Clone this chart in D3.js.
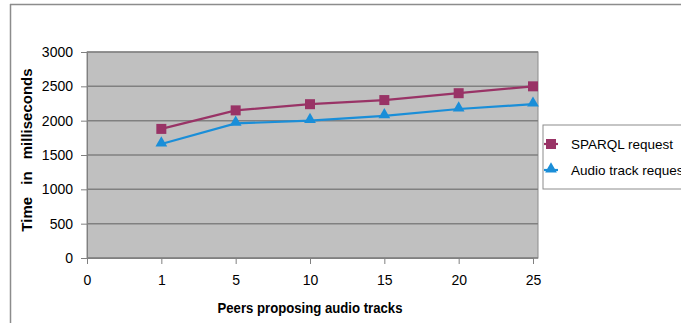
<!DOCTYPE html>
<html><head><meta charset="utf-8">
<script src="https://cdn.jsdelivr.net/npm/d3@7"></script>
<style>body{margin:0;background:#fff;}svg{display:block;}</style>
</head><body>
<script>
const categories = ["0","1","5","10","15","20","25"];
const yTicks = [0,500,1000,1500,2000,2500,3000];
const sparqlValues = [null,1880,2150,2240,2300,2400,2500];
const audioValues  = [null,1660,1960,2000,2070,2170,2240];
const seriesNames = ["SPARQL request","Audio track request"];
const seriesColors = ["#993366","#1A8ED8"];

const W=681,H=323;
const svg=d3.select("body").append("svg").attr("width",W).attr("height",H);
const font="'Liberation Sans',Arial,sans-serif";

// outer border
svg.append("line").attr("x1",10).attr("x2",W).attr("y1",4.5).attr("y2",4.5).attr("stroke","#8c8c8c").attr("stroke-width",1.5);
svg.append("line").attr("x1",10.5).attr("x2",10.5).attr("y1",4).attr("y2",H).attr("stroke","#8c8c8c").attr("stroke-width",1.5);

const plot={l:87,r:538,t:52,b:258};
const x=d3.scalePoint().domain(categories).range([plot.l,533]);
const y=d3.scaleLinear().domain([0,3000]).range([plot.b,plot.t]);

svg.append("rect").attr("x",plot.l).attr("y",plot.t).attr("width",plot.r-plot.l).attr("height",plot.b-plot.t)
  .attr("fill","#c0c0c0").attr("stroke","#8c8c8c").attr("stroke-width",1);

// gridlines
svg.append("g").selectAll("line").data(yTicks).join("line")
  .attr("x1",plot.l).attr("x2",plot.r).attr("y1",d=>y(d)).attr("y2",d=>y(d))
  .attr("stroke","#808080").attr("stroke-width",1.5);

// y axis
const ya=svg.append("g").attr("transform",`translate(${plot.l},0)`)
  .call(d3.axisLeft(y).tickValues(yTicks).tickFormat(d3.format("d")).tickSize(6).tickPadding(8));
ya.select(".domain").attr("stroke","#808080");
ya.selectAll(".tick line").attr("stroke","#808080");
ya.selectAll("text").attr("font-family",font).attr("font-size",14).attr("fill","#000");

// x axis
const xa=svg.append("g").attr("transform",`translate(0,${plot.b})`)
  .call(d3.axisBottom(x).tickSize(6).tickPadding(11));
xa.select(".domain").attr("stroke","#808080");
xa.selectAll(".tick line").attr("stroke","#808080");
xa.selectAll("text").attr("font-family",font).attr("font-size",14).attr("fill","#000");

// titles
svg.append("text").attr("x",310).attr("y",313).attr("text-anchor","middle")
  .attr("font-family",font).attr("font-size",15).attr("font-weight","bold")
  .attr("textLength",185).attr("lengthAdjust","spacingAndGlyphs").text("Peers proposing audio tracks");
svg.append("text").attr("transform","translate(32,150) rotate(-90)").attr("text-anchor","middle")
  .attr("font-family",font).attr("font-size",15).attr("font-weight","bold").attr("word-spacing","8px")
  .text("Time in milliseconds");

const data=[sparqlValues,audioValues];
const line=d3.line().defined(d=>d.v!=null).x(d=>x(d.c)).y(d=>y(d.v));
const tri=d3.symbol().type(d3.symbolTriangle).size(60);
data.forEach((vals,i)=>{
  const pts=vals.map((v,j)=>({c:categories[j],v})).filter(d=>d.v!=null);
  svg.append("path").datum(pts).attr("d",line).attr("fill","none").attr("stroke",seriesColors[i]).attr("stroke-width",2.2);
  const g=svg.append("g");
  if(i===0){
    g.selectAll("rect").data(pts).join("rect").attr("x",d=>x(d.c)-5).attr("y",d=>y(d.v)-5)
      .attr("width",10).attr("height",10).attr("fill",seriesColors[i]);
  } else {
    g.selectAll("path").data(pts).join("path").attr("d",tri)
      .attr("transform",d=>`translate(${x(d.c)},${y(d.v)-1})`).attr("fill",seriesColors[i]);
  }
});

// legend
const lg=svg.append("g");
lg.append("rect").attr("x",543).attr("y",125).attr("width",150).attr("height",64).attr("fill","#fff").attr("stroke","#8c8c8c");
seriesNames.forEach((n,i)=>{
  const yy=144+i*26;
  lg.append("line").attr("x1",544).attr("x2",558).attr("y1",yy).attr("y2",yy).attr("stroke",seriesColors[i]).attr("stroke-width",2.2);
  if(i===0) lg.append("rect").attr("x",546).attr("y",yy-5).attr("width",10).attr("height",10).attr("fill",seriesColors[i]);
  else lg.append("path").attr("d",tri).attr("transform",`translate(551,${yy-1})`).attr("fill",seriesColors[i]);
  lg.append("text").attr("x",571).attr("y",yy+5).attr("font-family",font).attr("font-size",13.5).text(n);
});
</script>
</body></html>
